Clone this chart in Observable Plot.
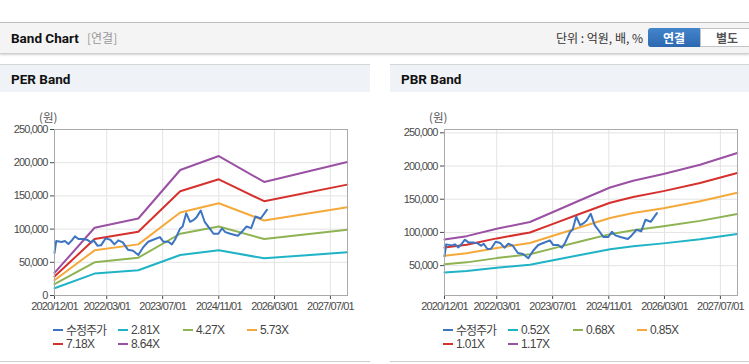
<!DOCTYPE html>
<html><head><meta charset="utf-8">
<script src="https://cdn.jsdelivr.net/npm/d3@7"></script>
<script src="https://cdn.jsdelivr.net/npm/@observablehq/plot@0.6"></script>
<style>
body{margin:0;width:749px;height:364px;overflow:hidden;background:#fff;position:relative;font-family:"Liberation Sans",sans-serif}
.kr{font-family:"Noto Sans CJK KR",sans-serif}
.hdr{position:absolute;left:0;top:22px;width:749px;height:30px;background:#f4f4f4;border-top:1px solid #bdbdbd;border-bottom:1px solid #cfcfcf;box-shadow:0 1px 2px rgba(0,0,0,.18)}
.ttl{position:absolute;left:11px;top:0;font:bold 13.5px/30px Roboto,sans-serif;color:#111}
.sub{position:absolute;left:87px;top:0;line-height:30px;font-size:12px;color:#999}
.unit{position:absolute;right:106px;top:0;line-height:30px;font-size:12px;color:#333}
.btn1{position:absolute;left:648px;top:5px;width:52px;height:19px;line-height:19px;text-align:center;color:#fff;font-weight:bold;font-size:12px;background:linear-gradient(#4485cc,#2c68b0);border-radius:3px 0 0 3px}
.btn2{position:absolute;left:700px;top:5px;width:52px;height:17px;line-height:17px;text-align:center;color:#555;font-weight:bold;font-size:12px;background:#fff;border:1px solid #c3c3c3}
.panel{position:absolute;top:64px;height:297px;border-bottom:1px solid #cfcfcf;overflow:hidden}
.ptitle{height:27px;background:#eff2f7;border-top:1px solid #d6d6d6;font:bold 13.5px/29px Roboto,sans-serif;padding-left:11px;color:#111}
.won{position:absolute;left:39px;top:45px;font-size:11.5px;color:#555;line-height:16px}
.chart{position:absolute;left:0;top:41px}
.leg{position:absolute;height:14px;line-height:14px;font-size:12px;letter-spacing:-0.6px;color:#444;white-space:nowrap}
.sw{position:absolute;left:0;top:6px;width:10px;height:2px}
.lt{position:absolute;left:13px;top:0}
</style></head><body>
<div class="hdr">
  <div class="ttl">Band Chart</div>
  <div class="sub kr">[연결]</div>
  <div class="unit kr">단위 : 억원, 배, %</div>
  <div class="btn1 kr">연결</div>
  <div class="btn2 kr">별도</div>
</div>
<div class="panel" id="perP" style="left:0;width:370px">
  <div class="ptitle">PER Band</div>
  <div class="won kr">(원)</div>
  <div class="chart" id="perC"></div>
</div>
<div class="panel" id="pbrP" style="left:390px;width:359px">
  <div class="ptitle">PBR Band</div>
  <div class="won kr">(원)</div>
  <div class="chart" id="pbrC"></div>
</div>
<script>
// ---- data ----
const stockName = "수정주가";
const stockDates = ["2020-12-01","2020-12-16","2021-02-01","2021-03-01","2021-04-01","2021-05-01","2021-05-28","2021-06-28","2021-08-10","2021-09-16","2021-10-16","2021-11-07","2021-12-10","2022-01-10","2022-02-19","2022-04-01","2022-05-07","2022-06-10","2022-07-19","2022-09-01","2022-10-16","2022-12-01","2023-01-10","2023-02-25","2023-04-10","2023-06-07","2023-07-07","2023-08-19","2023-09-19","2023-10-16","2023-12-01","2023-12-22","2024-01-22","2024-02-25","2024-03-28","2024-04-22","2024-05-28","2024-07-01","2024-08-13","2024-09-16","2024-10-28","2024-11-28","2024-12-28","2025-02-10","2025-04-16","2025-05-19","2025-07-01","2025-08-10","2025-09-16","2025-11-01","2025-12-25"];
const stockValues = [64000,82000,80500,82000,77500,83000,89000,85000,85000,83500,80000,83000,75000,75500,86000,84000,77000,83000,80000,69000,67500,61000,72000,81000,84000,88000,81000,81000,77000,84000,101000,104000,124000,111000,114000,118000,128000,111000,101000,93000,93000,101000,95500,93000,90000,95500,104000,101500,119000,116000,129000];

const perNames = ["2.81X","4.27X","5.73X","7.18X","8.64X"];
const perDates = ["2020-12-01","2021-11-15","2022-12-01","2023-12-01","2024-11-01","2025-12-01","2027-11-25"];
const per281 = [11000,33000,38000,61000,68000,56000,65000];
const per427 = [17000,50000,57000,93000,104000,85000,99000];
const per573 = [23000,68000,77000,125000,139000,113000,133000];
const per718 = [28500,85000,96000,157000,175000,142000,167000];
const per864 = [34000,102000,116000,189000,210000,171000,201000];

const pbrNames = ["0.52X","0.68X","0.85X","1.01X","1.17X"];
const pbrDates = ["2020-12-01","2021-06-12","2022-03-01","2022-12-15","2023-07-05","2024-02-25","2024-11-12","2025-06-01","2026-02-20","2027-01-05","2027-11-25"];
const pbr052 = [39700,42000,46900,51400,58100,66000,74500,79000,83500,89800,97600];
const pbr068 = [52000,54900,61300,67200,76000,86300,97400,103300,109200,117400,127700];
const pbr085 = [64900,68600,76600,84100,95000,107900,121800,129200,136500,146800,159600];
const pbr101 = [77200,81500,91000,99900,112900,128100,144700,153400,162200,174300,189600];
const pbr117 = [89400,94400,105500,115700,130800,148500,167700,177800,187900,202000,219700];

const xTickLabels = ["2020-12-01","2022-03-01","2023-07-01","2024-11-01","2026-03-01","2027-07-01"];
const perYTicks = [0,50000,100000,150000,200000,250000];
const pbrYTicks = [50000,100000,150000,200000,250000];

const colors = {"수정주가":"#3c74c2","b0":"#1fb3c6","b1":"#8db352","b2":"#f4a93a","b3":"#d5302c","b4":"#9a50a3"};
const bandColors = [colors.b0,colors.b1,colors.b2,colors.b3,colors.b4];

// ---- build ----
const stock = stockDates.map((d,i)=>({date:new Date(d), value:stockValues[i]}));
function bandRows(names, dates, series){
  return names.flatMap((n,k)=>dates.map((d,i)=>({series:n, date:new Date(d), value:series[k][i]})));
}
const perRows = bandRows(perNames, perDates, [per281,per427,per573,per718,per864]);
const pbrRows = bandRows(pbrNames, pbrDates, [pbr052,pbr068,pbr085,pbr101,pbr117]);
const xTicks = xTickLabels.map(d=>new Date(d));
const xDomain = [new Date("2020-12-01"), new Date("2027-11-27")];

function chart(rows, names, yDomain, yTicks, width, marginRight){
  return Plot.plot({
    width, height:215, marginLeft:54, marginRight, marginTop:24, marginBottom:25,
    style:{fontFamily:'"Liberation Sans",sans-serif', fontSize:"11px", letterSpacing:"-0.85px", color:"#4a4a4a", background:"transparent", overflow:"visible"},
    x:{type:"utc", domain:xDomain, ticks:xTicks, tickFormat:d3.utcFormat("%Y/%m/%d"), tickSize:4, tickPadding:3, label:null},
    y:{domain:yDomain, ticks:yTicks, tickFormat:d3.format(","), tickSize:4, tickPadding:3, label:null},
    color:{domain:names, range:bandColors},
    marks:[
      Plot.gridX(xTicks,{stroke:"#e3e3e3", strokeOpacity:1}),
      Plot.gridY(yTicks,{stroke:"#e3e3e3", strokeOpacity:1}),
      Plot.line(rows,{x:"date", y:"value", z:"series", stroke:"series", strokeWidth:2}),
      Plot.line(stock,{x:"date", y:"value", stroke:colors["수정주가"], strokeWidth:2}),
      Plot.frame({stroke:"#aaa"})
    ]
  });
}
document.getElementById("perC").append(chart(perRows, perNames, [0,250000], perYTicks, 370, 23));
document.getElementById("pbrC").append(chart(pbrRows, pbrNames, [5000,255000], pbrYTicks, 359, 12));

function legend(panelId, names){
  const p = document.getElementById(panelId);
  const items = [[stockName, colors["수정주가"]], ...names.map((n,i)=>[n, bandColors[i]])];
  const cols = [53,118,183,247];
  items.forEach(([n,c],i)=>{
    const el = document.createElement("div");
    el.className = "leg";
    el.style.left = cols[i%4]+"px";
    el.style.top = (259 + Math.floor(i/4)*14)+"px";
    const sw = document.createElement("div"); sw.className="sw"; sw.style.background=c;
    const t = document.createElement("div"); t.className="lt";
    if (n===stockName){ t.classList.add("kr"); t.style.fontSize="12px"; t.style.letterSpacing="-1px"; }
    t.textContent = n;
    el.append(sw,t); p.append(el);
  });
}
legend("perP", perNames);
legend("pbrP", pbrNames);
</script>
</body></html>
